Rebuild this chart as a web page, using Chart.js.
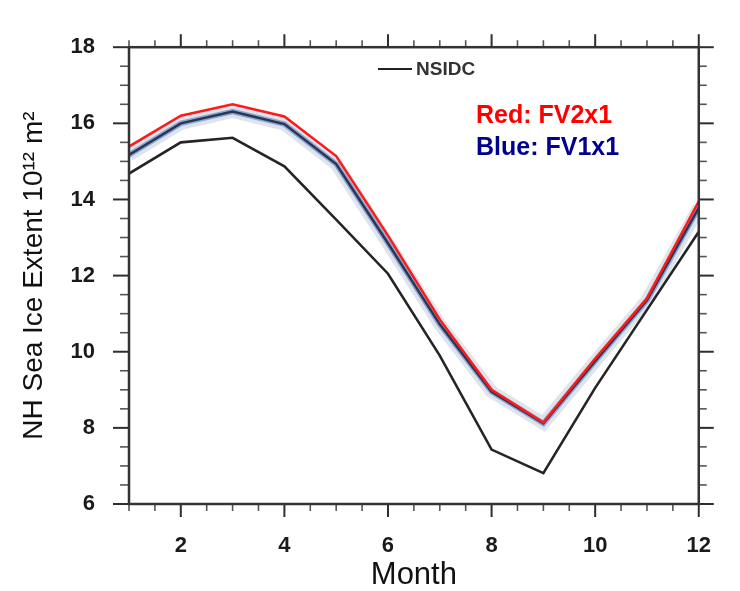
<!DOCTYPE html>
<html>
<head>
<meta charset="utf-8">
<script src="https://cdn.jsdelivr.net/npm/chart.js@4/dist/chart.umd.min.js"></script>
<style>
  html, body { margin: 0; padding: 0; background: #ffffff; }
  #wrap { width: 740px; height: 591px; position: relative; }
</style>
</head>
<body>
<div id="wrap"><canvas id="c"></canvas></div>
<script>
// ---- data ----
const months = [1, 2, 3, 4, 5, 6, 7, 8, 9, 10, 11, 12];
const nsidc  = [14.68, 15.50, 15.62, 14.87, 13.47, 12.05, 9.90, 7.43, 6.81, 9.05, 11.10, 13.15];
const fv2x1  = [15.39, 16.20, 16.50, 16.18, 15.14, 13.05, 10.85, 9.00, 8.14, 9.82, 11.40, 13.95];
const fv1x1  = [15.17, 16.00, 16.31, 15.98, 14.93, 12.85, 10.72, 8.95, 8.12, 9.75, 11.35, 13.78];
const xTickLabels = [2, 4, 6, 8, 10, 12];
const yTickLabels = [6, 8, 10, 12, 14, 16, 18];
const legendLabel = 'NSIDC';
const noteRed = 'Red: FV2x1';
const noteBlue = 'Blue: FV1x1';

const pts = vals => months.map((m, i) => ({ x: m, y: vals[i] }));

Chart.defaults.font.family = '"Liberation Sans", Arial, Helvetica, sans-serif';

const tickPlugin = {
  id: 'nclTicks',
  afterDraw(chart) {
    const { ctx, chartArea: a, scales: { x, y } } = chart;
    ctx.save();
    ctx.lineCap = 'butt';
    const drawTick = (x1, y1, x2, y2, major) => {
      ctx.beginPath();
      ctx.strokeStyle = major ? '#2e2e2e' : '#555555';
      ctx.lineWidth = major ? 2 : 1.6;
      ctx.moveTo(x1, y1); ctx.lineTo(x2, y2); ctx.stroke();
    };
    for (let v = x.min; v <= x.max + 1e-9; v += 0.5) {
      const px = x.getPixelForValue(v);
      const major = xTickLabels.includes(v);
      const len = major ? 13 : 7;
      drawTick(px, a.bottom, px, a.bottom + len, major);
      drawTick(px, a.top, px, a.top - len, major);
    }
    for (let v = y.min; v <= y.max + 1e-9; v += 0.5) {
      const py = y.getPixelForValue(v);
      const major = yTickLabels.includes(v);
      drawTick(a.left, py, a.left - (major ? 16 : 9), py, major);
      drawTick(a.right, py, a.right + (major ? 15 : 8), py, major);
    }
    ctx.strokeStyle = '#333333';
    ctx.lineWidth = 2.5;
    ctx.strokeRect(a.left, a.top, a.right - a.left, a.bottom - a.top);

    ctx.beginPath();
    ctx.strokeStyle = '#222222';
    ctx.lineWidth = 2;
    ctx.moveTo(378, 69); ctx.lineTo(412, 69); ctx.stroke();
    ctx.fillStyle = '#333333';
    ctx.font = 'bold 19px "Liberation Sans", Arial, sans-serif';
    ctx.textBaseline = 'middle';
    ctx.textAlign = 'left';
    ctx.fillText(legendLabel, 416, 70);

    ctx.textBaseline = 'alphabetic';
    ctx.font = 'bold 25px "Liberation Sans", Arial, sans-serif';
    ctx.fillStyle = '#ff0000';
    ctx.fillText(noteRed, 476, 123);
    ctx.fillStyle = '#000090';
    ctx.fillText(noteBlue, 476, 155);
    ctx.restore();
  }
};

new Chart(document.getElementById('c'), {
  type: 'line',
  data: {
    datasets: [
      { label: 'FV1x1 spread', data: pts(fv1x1), borderColor: 'rgba(150,165,190,0.30)', borderWidth: 13, pointRadius: 0, tension: 0, order: 6 },
      { label: 'FV1x1 halo', data: pts(fv1x1), borderColor: 'rgba(95,135,205,0.65)', borderWidth: 5.5, pointRadius: 0, tension: 0, order: 5 },
      { label: 'FV1x1', data: pts(fv1x1), borderColor: '#2c3652', borderWidth: 2.5, pointRadius: 0, tension: 0, order: 4 },
      { label: 'FV2x1', data: pts(fv2x1), borderColor: '#ff1a1a', borderWidth: 2.5, pointRadius: 0, tension: 0, order: 3 },
      { label: 'NSIDC', data: pts(nsidc), borderColor: '#252525', borderWidth: 2.6, pointRadius: 0, tension: 0, order: 2 }
    ]
  },
  options: {
    responsive: true,
    maintainAspectRatio: false,
    animation: false,
    layout: { padding: { top: 24, right: 20, bottom: 0, left: 0 } },
    plugins: { legend: { display: false }, tooltip: { enabled: false } },
    scales: {
      x: {
        type: 'linear', min: 1, max: 12,
        grid: { display: false, drawTicks: false },
        border: { display: false },
        ticks: {
          stepSize: 1, autoSkip: false, maxRotation: 0, padding: 29,
          color: '#1a1a1a', font: { size: 22, weight: 'bold' },
          callback: v => xTickLabels.includes(v) ? String(v) : ''
        },
        title: { display: true, text: 'Month', color: '#111111', font: { size: 31, lineHeight: 1 }, padding: { top: 0, bottom: 0 } },
        afterFit: s => { s.height = 87; }
      },
      y: {
        min: 6, max: 18,
        grid: { display: false, drawTicks: false },
        border: { display: false },
        ticks: {
          stepSize: 2, padding: 34,
          color: '#1a1a1a', font: { size: 22, weight: 'bold' },
          callback: v => yTickLabels.includes(v) ? String(v) : ''
        },
        title: { display: true, text: 'NH Sea Ice Extent 10¹² m²', color: '#111111', font: { size: 28, lineHeight: 1 }, padding: { top: 20, bottom: 0 } },
        afterFit: s => { s.width = 129; }
      }
    }
  },
  plugins: [tickPlugin]
});
</script>
</body>
</html>
